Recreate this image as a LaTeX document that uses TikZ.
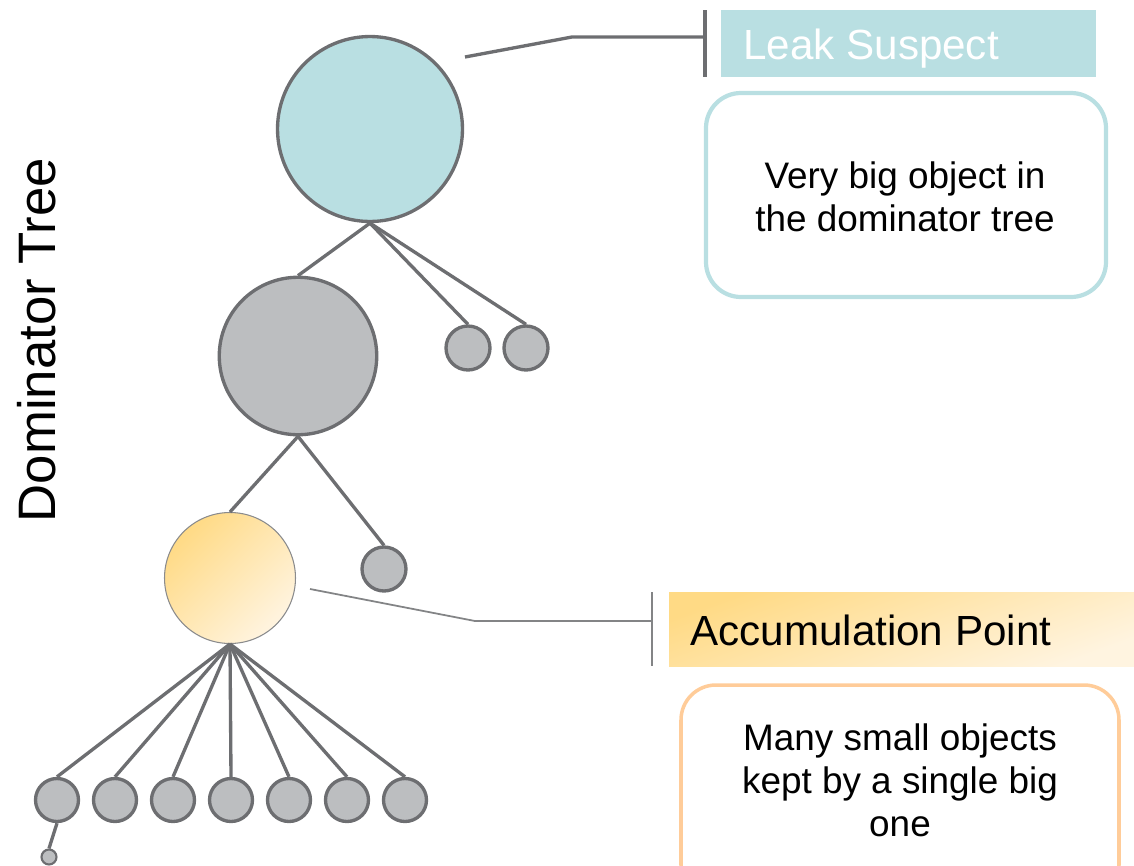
\documentclass[tikz,border=0pt]{standalone}
\usepackage{fontspec}
\setmainfont{Liberation Sans}
\definecolor{treegray}{HTML}{6D6E71}
\definecolor{nodegray}{HTML}{BCBEC0}
\definecolor{suspect}{HTML}{B9DFE2}
\definecolor{accdark}{HTML}{FFDA85}
\definecolor{acclight}{HTML}{FFF4E0}
\definecolor{accline}{HTML}{FFCC99}
\tikzset{
    obj/.style={circle, draw=treegray, line width=1.9pt, fill=nodegray, inner sep=0pt, minimum size=#1},
    link/.style={draw=treegray, line width=1.9pt},
    note/.style={font=\fontsize{21}{24.5}\selectfont, align=center},
    title/.style={font=\fontsize{24}{28}\selectfont, anchor=base west, inner sep=0pt}
}

\begin{document}
\begin{tikzpicture}[x=0.02cm, y=-0.02cm]
    \clip (0, 0) rectangle (1134, 866);
    \node [rotate=90, font=\fontsize{30}{35}\selectfont] (0) at (37, 340) {Dominator Tree};
    % tree
    \node [obj=3.7cm, fill=suspect] (1) at (370, 129) {};
    \node [obj=3.15cm] (2) at (298, 356) {};
    \node [obj=0.88cm] (3) at (468, 348) {};
    \node [obj=0.88cm] (4) at (526, 348) {};
    \node [obj=2.62cm, line width=0.6pt, draw=treegray!80, top color=accdark, bottom color=acclight, shading angle=45] (5) at (230, 578) {};
    \node [obj=0.88cm] (6) at (384, 569) {};
    \foreach \i/\x in {1/57, 2/115, 3/173, 4/231, 5/289, 6/347, 7/405} {
        \node [obj=0.86cm] (b\i) at (\x, 800) {};
        \draw [link] (5.south) to (b\i.north);
    }
    \node [obj=0.3cm, line width=1.2pt] (7) at (49, 857) {};
    \draw [link] (1.south) to (2.north);
    \draw [link] (1.south) to (3.north);
    \draw [link] (1.south) to (4.north);
    \draw [link] (2.south) to (5.north);
    \draw [link] (2.south) to (6.north);
    \draw [link] (b1.south) to (7.north);
    % leak suspect
    \coordinate (8) at (465, 57);
    \coordinate (9) at (705, 37);
    \draw [link] (705, 10) to (705, 77);
    \draw [link] (8) to (572, 37) to (9);
    \fill [suspect] (721, 10) rectangle (1096, 77);
    \node [title, text=white] (10) at (743, 59) {Leak Suspect};
    \draw [suspect, line width=2.4pt, rounded corners=0.7cm] (706, 93) rectangle (1106, 297);
    \node [note] (11) at (905, 197) {Very big object in\\the dominator tree};
    % accumulation point
    \coordinate (12) at (310, 589);
    \coordinate (13) at (652, 621);
    \draw [treegray!85, line width=1pt] (652, 592) to (652, 666);
    \draw [treegray!85, line width=1pt] (12) to (475, 621) to (13);
    \shade [top color=accdark, bottom color=acclight, shading angle=20] (669, 592) rectangle (1134, 666);
    \node [title] (14) at (690, 645) {Accumulation Point};
    \draw [accline, line width=2pt, rounded corners=0.7cm] (681, 685) rectangle (1119, 900);
    \node [note] (15) at (900, 780) {Many small objects\\kept by a single big\\one};
\end{tikzpicture}
\end{document}
